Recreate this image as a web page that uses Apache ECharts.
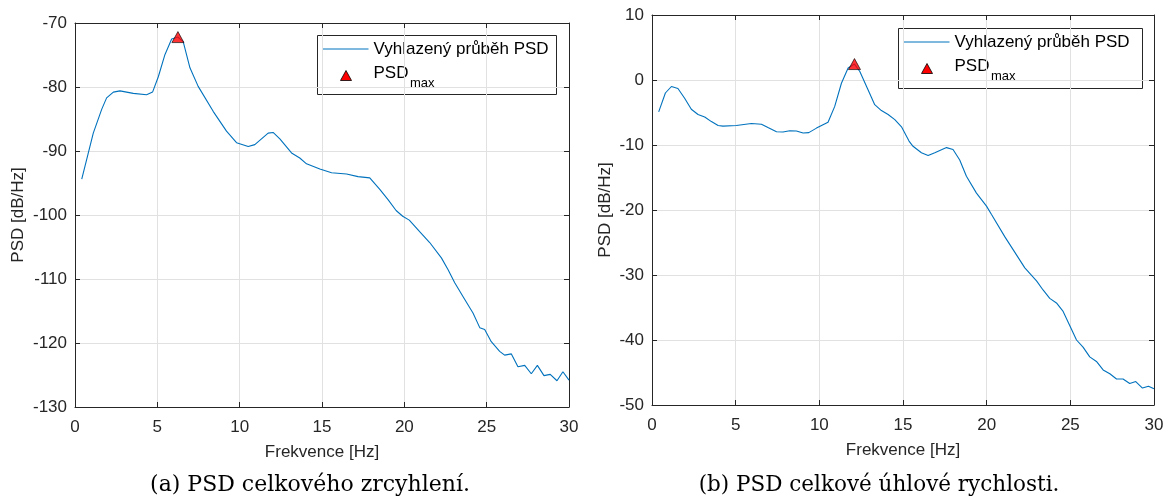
<!DOCTYPE html>
<html><head><meta charset="utf-8">
<script src="https://cdn.jsdelivr.net/npm/echarts@6/dist/echarts.min.js"></script>
<style>html,body{margin:0;padding:0;background:#fff}#c{width:1169px;height:497px}</style>
</head><body><div id="c"></div><script>
// Panel (a): PSD celkového zrcyhlení
const freqA = [0.41,1.11,1.62,1.92,2.33,2.73,3.54,4.35,4.71,5.06,5.46,5.87,6.25,6.57,6.98,7.48,8.39,9.2,9.81,10.52,10.92,11.73,12.03,12.44,13.15,13.65,14.06,14.87,15.58,16.49,17.19,17.9,18.51,19.01,19.5,19.9,20.3,20.93,21.54,22.25,22.65,23.06,23.67,24.17,24.58,24.88,25.28,25.79,26.09,26.5,26.9,27.31,27.71,28.08,28.48,28.86,29.27,29.63,30.0];
const psdA  = [-94.4,-87.2,-83.5,-81.7,-80.8,-80.6,-81.0,-81.2,-80.8,-78.4,-74.95,-72.5,-72.2,-72.9,-77.0,-79.9,-83.8,-86.9,-88.7,-89.3,-89.0,-87.2,-87.1,-88.1,-90.3,-91.1,-92.0,-92.8,-93.4,-93.6,-94.0,-94.2,-96.0,-97.6,-99.3,-100.2,-100.8,-102.6,-104.3,-106.7,-108.5,-110.6,-113.2,-115.3,-117.6,-117.9,-119.8,-121.3,-121.9,-121.7,-123.7,-123.5,-124.8,-123.5,-125.1,-124.9,-125.9,-124.5,-125.8];
const peakA = [6.25, -72.2];
// Panel (b): PSD celkové úhlové rychlosti
const freqB = [0.4,0.8,1.16,1.55,1.95,2.35,2.75,3.15,3.55,3.95,4.24,5.04,5.94,6.54,6.93,7.44,7.83,8.23,8.63,9.03,9.37,9.83,10.52,10.92,11.32,11.72,12.1,12.42,12.91,13.31,13.71,14.11,14.51,14.91,15.36,15.6,16.1,16.5,16.9,17.6,17.99,18.39,18.79,19.39,19.99,20.29,21.08,21.58,22.28,22.98,23.37,23.77,24.17,24.57,24.97,25.37,25.76,26.16,26.56,26.96,27.36,27.76,28.15,28.55,28.91,29.31,29.67,30.0];
const psdB  = [-4.9,-2.0,-1.0,-1.3,-2.8,-4.5,-5.3,-5.7,-6.4,-7.0,-7.1,-7.0,-6.7,-6.8,-7.3,-7.95,-8.0,-7.8,-7.85,-8.15,-8.1,-7.4,-6.5,-4.06,-0.5,1.85,2.45,1.3,-1.5,-3.8,-4.7,-5.3,-6.1,-7.2,-9.4,-10.2,-11.2,-11.6,-11.2,-10.4,-10.7,-12.3,-14.8,-17.4,-19.4,-20.7,-24.1,-26.1,-28.9,-30.9,-32.3,-33.6,-34.3,-35.6,-37.8,-40.0,-41.1,-42.6,-43.3,-44.6,-45.2,-46.0,-46.0,-46.7,-46.4,-47.4,-47.1,-47.5];
const peakB = [12.1, 2.45];
const xTicks = [0,30,5];
const yTicksA = [-130,-70,10];
const yTicksB = [-50,10,10];
const seriesName = 'Vyhlazený průběh PSD';
const xName = 'Frekvence [Hz]';
const yName = 'PSD [dB/Hz]';
const captionA = '(a) PSD celkového zrcyhlení.';
const captionB = '(b) PSD celkové úhlové rychlosti.';

const axisCol = '#262626';
const gridCol = '#e1e1e1';
const lineCol = '#0072BD';
const FONT = 'Liberation Sans';

function zip(a,b){return a.map((v,i)=>[v,b[i]]);}
function xAx(g, main){
  return {type:'value', gridIndex:g, min:xTicks[0], max:xTicks[1], interval:xTicks[2],
    position: main?'bottom':'top',
    name: main?xName:'', nameLocation:'middle', nameGap:37,
    nameTextStyle:{fontFamily:FONT,fontSize:17,color:axisCol},
    axisLine:{show:true,onZero:false,lineStyle:{color:axisCol,width:1}},
    axisTick:{show:true,inside:true,length:5,lineStyle:{color:axisCol}},
    axisLabel:{show:main,fontFamily:FONT,fontSize:17,color:axisCol,margin:12},
    splitLine:{show:main,lineStyle:{color:gridCol,width:1}}};
}
function yAx(g, t, main){
  return {type:'value', gridIndex:g, min:t[0], max:t[1], interval:t[2],
    position: main?'left':'right',
    name: main?yName:'', nameLocation:'middle', nameGap: g===0?48:38, nameRotate:90,
    nameTextStyle:{fontFamily:FONT,fontSize:17,color:axisCol},
    axisLine:{show:true,onZero:false,lineStyle:{color:axisCol,width:1}},
    axisTick:{show:true,inside:true,length:5,lineStyle:{color:axisCol}},
    axisLabel:{show:main,fontFamily:FONT,fontSize:17,color:axisCol,margin:8},
    splitLine:{show:main,lineStyle:{color:gridCol,width:1}}};
}
function legend(x0,y0,w,h){
  return {type:'group', left:x0, top:y0, children:[
    {type:'rect', shape:{x:0,y:0,width:w,height:h}, style:{fill:'#fff',stroke:axisCol,lineWidth:1}},
    {type:'line', shape:{x1:5,y1:13.5,x2:51,y2:13.5}, style:{stroke:lineCol,lineWidth:1}},
    {type:'text', x:56, y:13.5, style:{text:seriesName,font:'17px "Liberation Sans"',fill:'#000',textVerticalAlign:'middle'}},
    {type:'polygon', shape:{points:[[28.5,35],[34,45],[23,45]]}, style:{fill:'#ff0000',stroke:'#000',lineWidth:0.8}},
    {type:'text', x:56, y:38, style:{text:'PSD',font:'17px "Liberation Sans"',fill:'#000',textVerticalAlign:'middle'}},
    {type:'text', x:92.5, y:48, style:{text:'max',font:'13px "Liberation Sans"',fill:'#000',textVerticalAlign:'middle'}}
  ]};
}
const chart = echarts.init(document.getElementById('c'));
chart.setOption({
  animation:false,
  backgroundColor:'#fff',
  grid:[{left:75,top:23,width:494,height:384},{left:652,top:15,width:502,height:390}],
  xAxis:[xAx(0,true),xAx(1,true),xAx(0,false),xAx(1,false)],
  yAxis:[yAx(0,yTicksA,true),yAx(1,yTicksB,true),yAx(0,yTicksA,false),yAx(1,yTicksB,false)],
  series:[
    {type:'line',name:seriesName,xAxisIndex:0,yAxisIndex:0,data:zip(freqA,psdA),showSymbol:false,symbol:'none',lineStyle:{color:lineCol,width:1.1},z:3},
    {type:'scatter',name:'PSDmax',xAxisIndex:0,yAxisIndex:0,data:[peakA],symbol:'triangle',symbolSize:[12,11],itemStyle:{color:'#ff0000',borderColor:'#000',borderWidth:0.8},z:4},
    {type:'line',name:seriesName,xAxisIndex:1,yAxisIndex:1,data:zip(freqB,psdB),showSymbol:false,symbol:'none',lineStyle:{color:lineCol,width:1.1},z:3},
    {type:'scatter',name:'PSDmax',xAxisIndex:1,yAxisIndex:1,data:[peakB],symbol:'triangle',symbolSize:[12,11],itemStyle:{color:'#ff0000',borderColor:'#000',borderWidth:0.8},z:4}
  ],
  graphic:[
    legend(317,35,239,59),
    legend(898,28,244,60),
    {type:'text', x:310, y:485, style:{text:captionA,font:'22px "DejaVu Serif"',fill:'#000',textAlign:'center',textVerticalAlign:'middle'}},
    {type:'text', x:879, y:485, style:{text:captionB,font:'21.5px "DejaVu Serif"',fill:'#000',textAlign:'center',textVerticalAlign:'middle'}}
  ]
});
</script></body></html>
